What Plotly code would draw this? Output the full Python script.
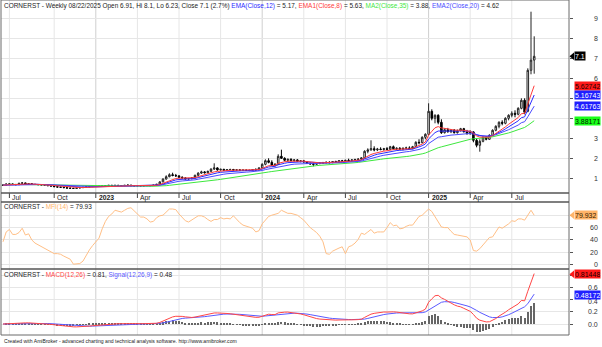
import numpy as np
import pandas as pd
import plotly.graph_objects as go

symbol = "CORNERST"
dates = pd.date_range("2022-06-17", periods=167, freq="W-FRI")

opens = [
    0.64, 0.66, 0.71, 0.72, 0.69, 0.68, 0.75, 0.77, 0.72, 0.73,
    0.70, 0.69, 0.68, 0.67, 0.66, 0.63, 0.61, 0.58, 0.56, 0.55,
    0.53, 0.51, 0.50, 0.49, 0.52, 0.53, 0.55, 0.57, 0.58, 0.60,
    0.61, 0.62, 0.64, 0.62, 0.65, 0.63, 0.65, 0.64, 0.63, 0.65,
    0.66, 0.63, 0.62, 0.63, 0.62, 0.63, 0.64, 0.63, 0.66, 0.70,
    0.82, 0.96, 1.08, 1.18, 1.14, 1.12, 1.05, 1.02, 0.97, 0.98,
    1.02, 1.15, 1.26, 1.32, 1.28, 1.35, 1.46, 1.52, 1.42, 1.45,
    1.40, 1.43, 1.44, 1.41, 1.42, 1.40, 1.41, 1.39, 1.40, 1.44,
    1.42, 1.52, 1.70, 1.88, 1.80, 1.65, 1.70, 2.10, 2.00, 1.90,
    1.95, 1.88, 1.92, 1.85, 1.87, 1.82, 1.75, 1.72, 1.70, 1.74,
    1.76, 1.78, 1.80, 1.78, 1.84, 1.82, 1.88, 1.85, 1.90, 1.88,
    1.92, 1.94, 1.96, 2.02, 2.35, 2.42, 2.48, 2.42, 2.46, 2.44,
    2.48, 2.45, 2.58, 2.48, 2.50, 2.46, 2.50, 2.52, 2.48, 2.58,
    2.80, 2.78, 3.05, 3.20, 4.35, 4.00, 4.15, 3.80, 3.28, 3.43,
    3.33, 3.41, 3.28, 3.38, 3.48, 3.33, 3.23, 3.32, 2.90, 2.65,
    2.85, 3.05, 2.95, 3.15, 3.40, 3.60, 3.80, 3.75, 4.00, 4.15,
    4.25, 4.20, 4.50, 4.90, 4.35, 6.40, 6.91,
]
highs = [
    0.70, 0.74, 0.76, 0.74, 0.72, 0.78, 0.80, 0.78, 0.76, 0.74,
    0.72, 0.71, 0.70, 0.69, 0.67, 0.65, 0.63, 0.60, 0.58, 0.57,
    0.55, 0.53, 0.52, 0.53, 0.55, 0.56, 0.58, 0.59, 0.61, 0.63,
    0.64, 0.66, 0.65, 0.66, 0.67, 0.66, 0.67, 0.66, 0.66, 0.68,
    0.67, 0.65, 0.64, 0.65, 0.64, 0.66, 0.66, 0.67, 0.72, 0.85,
    1.00, 1.15, 1.25, 1.28, 1.22, 1.16, 1.10, 1.05, 1.02, 1.04,
    1.18, 1.30, 1.38, 1.36, 1.38, 1.50, 1.75, 1.55, 1.48, 1.47,
    1.46, 1.48, 1.47, 1.45, 1.46, 1.44, 1.45, 1.43, 1.46, 1.50,
    1.55, 1.75, 1.95, 2.00, 1.90, 1.75, 2.20, 2.43, 2.05, 1.98,
    2.00, 1.95, 1.96, 1.90, 1.92, 1.86, 1.80, 1.78, 1.76, 1.80,
    1.82, 1.84, 1.85, 1.86, 1.88, 1.90, 1.92, 1.92, 1.98, 1.95,
    1.98, 2.00, 2.05, 2.40, 2.50, 2.90, 2.60, 2.52, 2.55, 2.52,
    2.56, 2.62, 2.64, 2.55, 2.56, 2.54, 2.58, 2.60, 2.62, 2.85,
    2.95, 3.10, 3.25, 4.75, 4.45, 4.20, 4.20, 3.95, 3.50, 3.52,
    3.46, 3.46, 3.44, 3.52, 3.52, 3.42, 3.40, 3.35, 3.00, 2.95,
    3.10, 3.10, 3.20, 3.45, 3.65, 3.85, 3.90, 4.05, 4.20, 4.35,
    4.40, 4.55, 5.00, 5.00, 6.50, 9.33, 8.10,
]
lows = [
    0.62, 0.65, 0.68, 0.68, 0.66, 0.67, 0.72, 0.70, 0.70, 0.68,
    0.67, 0.66, 0.65, 0.64, 0.62, 0.60, 0.57, 0.55, 0.53, 0.52,
    0.50, 0.48, 0.47, 0.48, 0.50, 0.52, 0.54, 0.55, 0.57, 0.58,
    0.60, 0.61, 0.61, 0.61, 0.62, 0.62, 0.63, 0.62, 0.62, 0.63,
    0.62, 0.61, 0.60, 0.61, 0.60, 0.62, 0.62, 0.62, 0.65, 0.69,
    0.80, 0.94, 1.05, 1.10, 1.08, 1.02, 0.98, 0.95, 0.93, 0.95,
    1.00, 1.12, 1.22, 1.24, 1.25, 1.32, 1.42, 1.38, 1.38, 1.38,
    1.37, 1.40, 1.39, 1.37, 1.38, 1.36, 1.37, 1.35, 1.38, 1.40,
    1.41, 1.50, 1.65, 1.75, 1.62, 1.60, 1.68, 1.98, 1.85, 1.82,
    1.85, 1.84, 1.82, 1.80, 1.80, 1.72, 1.68, 1.60, 1.66, 1.70,
    1.72, 1.74, 1.75, 1.76, 1.78, 1.80, 1.82, 1.83, 1.86, 1.84,
    1.88, 1.90, 1.92, 2.00, 2.25, 2.38, 2.35, 2.36, 2.40, 2.38,
    2.42, 2.42, 2.44, 2.40, 2.42, 2.40, 2.44, 2.46, 2.46, 2.55,
    2.70, 2.75, 2.95, 3.15, 3.90, 3.75, 3.70, 3.22, 3.24, 3.28,
    3.26, 3.24, 3.24, 3.34, 3.29, 3.19, 3.18, 2.80, 2.55, 2.33,
    2.80, 2.90, 2.92, 3.10, 3.35, 3.50, 3.65, 3.70, 3.90, 4.05,
    4.05, 4.15, 4.45, 4.20, 4.30, 6.20, 6.23,
]
closes = [
    0.66, 0.71, 0.72, 0.69, 0.68, 0.75, 0.77, 0.72, 0.73, 0.70,
    0.69, 0.68, 0.67, 0.66, 0.63, 0.61, 0.58, 0.56, 0.55, 0.53,
    0.51, 0.50, 0.49, 0.52, 0.53, 0.55, 0.57, 0.58, 0.60, 0.61,
    0.62, 0.64, 0.62, 0.65, 0.63, 0.65, 0.64, 0.63, 0.65, 0.66,
    0.63, 0.62, 0.63, 0.62, 0.63, 0.64, 0.63, 0.66, 0.70, 0.82,
    0.96, 1.08, 1.18, 1.14, 1.12, 1.05, 1.02, 0.97, 0.98, 1.02,
    1.15, 1.26, 1.32, 1.28, 1.35, 1.46, 1.52, 1.42, 1.45, 1.40,
    1.43, 1.44, 1.41, 1.42, 1.40, 1.41, 1.39, 1.40, 1.44, 1.42,
    1.52, 1.70, 1.88, 1.80, 1.65, 1.70, 2.10, 2.00, 1.90, 1.95,
    1.88, 1.92, 1.85, 1.87, 1.82, 1.75, 1.72, 1.70, 1.74, 1.76,
    1.78, 1.80, 1.78, 1.84, 1.82, 1.88, 1.85, 1.90, 1.88, 1.92,
    1.94, 1.96, 2.02, 2.35, 2.42, 2.48, 2.42, 2.46, 2.44, 2.48,
    2.45, 2.58, 2.48, 2.50, 2.46, 2.50, 2.52, 2.48, 2.58, 2.80,
    2.78, 3.05, 3.20, 4.35, 4.00, 4.15, 3.80, 3.28, 3.43, 3.33,
    3.41, 3.28, 3.38, 3.48, 3.33, 3.23, 3.32, 2.90, 2.65, 2.85,
    3.05, 2.95, 3.15, 3.40, 3.60, 3.80, 3.75, 4.00, 4.15, 4.25,
    4.20, 4.50, 4.90, 4.30, 6.40, 6.91, 7.10,
]
mfi14 = [
    37, 53, 57, 49, 49, 52, 59, 48, 50, 40,
    35, 32, 29, 27, 24, 21, 18, 18, 17, 14,
    12, 9, 1, 2, 2, 6, 16, 24, 31, 37,
    43, 58, 70, 78, 82, 88, 86, 85, 88, 91,
    92, 87, 81, 77, 77, 74, 69, 70, 76, 79,
    80, 85, 90, 90, 89, 82, 76, 71, 69, 72,
    76, 79, 79, 77, 73, 70, 73, 73, 76, 74,
    75, 74, 79, 73, 68, 64, 62, 60, 59, 53,
    55, 66, 73, 78, 80, 81, 83, 88, 85, 83,
    83, 82, 80, 76, 72, 66, 60, 56, 52, 46,
    37, 18, 17, 22, 25, 27, 29, 18, 29, 31,
    35, 41, 51, 49, 53, 57, 51, 53, 53, 53,
    60, 68, 63, 64, 58, 59, 62, 64, 64, 72,
    78, 80, 85, 90, 86, 77, 68, 61, 60, 60,
    54, 49, 48, 47, 46, 45, 40, 23, 22, 26,
    32, 38, 44, 45, 52, 61, 59, 62, 66, 71,
    70, 74, 74, 72, 79, 88, 79.932,
]

# ---- indicators from the weekly closes ----
c = pd.Series(closes, dtype=float)
ema12 = c.ewm(span=12, adjust=False).mean()
ema8 = c.ewm(span=8, adjust=False).mean()
ma35 = c.rolling(35, min_periods=1).mean()
ema20 = c.ewm(span=20, adjust=False).mean()
macd = c.ewm(span=12, adjust=False).mean() - c.ewm(span=26, adjust=False).mean()
signal = macd.ewm(span=9, adjust=False).mean()
hist = macd - signal

xi = np.arange(len(dates))

# ---- page geometry (pixels) ----
W, H = 602, 347
ML, MR, MT, MB = 1, 33, 0, 12
PW, PH = W - ML - MR, H - MT - MB


def fx(px):
    return (px - ML) / PW


def fy(py):
    return (PH - (py - MT)) / PH


PRICE_DOM = [fy(193), fy(0)]
MFI_DOM = [fy(269), fy(202)]
MACD_DOM = [fy(335), fy(269)]
PRICE_RANGE = [0.265, 9.915]
MFI_RANGE = [-6.8, 101.3]
MACD_RANGE = [-0.18, 0.9016]
X_RANGE = [-0.625, 176.875]

FONT = "Liberation Sans, Arial, sans-serif"
C_EMA12 = "#2b2bff"
C_EMA8 = "#ff3b3b"
C_MA35 = "#3ee83e"
C_EMA20 = "#4a4aff"
C_MFI = "#ffbf86"
C_MACD = "#ff4646"
C_SIG = "#5a5aff"

fig = go.Figure()

fig.add_trace(go.Candlestick(
    x=xi, open=opens, high=highs, low=lows, close=closes,
    increasing=dict(line=dict(color="#222222", width=1), fillcolor="#ffffff"),
    decreasing=dict(line=dict(color="#000000", width=1), fillcolor="#000000"),
    whiskerwidth=0, showlegend=False, hoverinfo="skip",
    xaxis="x", yaxis="y",
))
for series, col in ((ma35, C_MA35), (ema20, C_EMA20), (ema12, C_EMA12), (ema8, C_EMA8)):
    fig.add_trace(go.Scatter(x=xi, y=series, mode="lines", line=dict(color=col, width=1),
                             showlegend=False, hoverinfo="skip", xaxis="x", yaxis="y"))

fig.add_trace(go.Scatter(x=xi, y=mfi14, mode="lines", line=dict(color=C_MFI, width=1),
                         showlegend=False, hoverinfo="skip", xaxis="x", yaxis="y2"))

fig.add_trace(go.Bar(x=xi, y=hist, width=0.32, marker=dict(color="#666666", line=dict(width=0)),
                     showlegend=False, hoverinfo="skip", xaxis="x", yaxis="y3"))
fig.add_trace(go.Scatter(x=xi, y=signal, mode="lines", line=dict(color=C_SIG, width=1),
                         showlegend=False, hoverinfo="skip", xaxis="x", yaxis="y3"))
fig.add_trace(go.Scatter(x=xi, y=macd, mode="lines", line=dict(color=C_MACD, width=1),
                         showlegend=False, hoverinfo="skip", xaxis="x", yaxis="y3"))

yax_common = dict(side="right", showgrid=True, gridcolor="#e6e6e6", gridwidth=1,
                  zeroline=False, showline=False, ticks="outside", ticklen=3,
                  tickcolor="#555555", showticklabels=False, fixedrange=True)

fig.update_layout(
    width=W, height=H,
    margin=dict(l=ML, r=MR, t=MT, b=MB, pad=0),
    paper_bgcolor="#ffffff", plot_bgcolor="#ffffff",
    showlegend=False, bargap=0,
    xaxis=dict(domain=[0, 1], range=X_RANGE, anchor="y3", showgrid=False, zeroline=False,
               showticklabels=False, ticks="", rangeslider=dict(visible=False), fixedrange=True),
    yaxis=dict(domain=PRICE_DOM, range=PRICE_RANGE, anchor="x",
               tickvals=list(range(1, 10)), **yax_common),
    yaxis2=dict(domain=MFI_DOM, range=MFI_RANGE, anchor="x",
                tickvals=[0, 20, 40, 60, 80], **yax_common),
    yaxis3=dict(domain=MACD_DOM, range=MACD_RANGE, anchor="x",
                tickvals=[0.0, 0.2, 0.4, 0.6, 0.8], **yax_common),
)

shapes = []
annotations = []

# ---- time axis: quarter ticks on the first bar of Jan/Apr/Jul/Oct ----
tick_idx = [i for i in range(1, len(dates))
            if dates[i].month != dates[i - 1].month and dates[i].month in (1, 4, 7, 10)]
for i in tick_idx:
    is_year = dates[i].month == 1
    gcol = "#cfcfcf" if is_year else "#e6e6e6"
    for y0, y1 in ((fy(193), fy(0)), (fy(335), fy(202))):
        shapes.append(dict(type="line", xref="x", yref="paper", x0=i, x1=i, y0=y0, y1=y1,
                           line=dict(color=gcol, width=1), layer="below"))
    shapes.append(dict(type="line", xref="x", yref="paper", x0=i, x1=i, y0=fy(193), y1=fy(198),
                       line=dict(color="#444444", width=1)))
    label = f"<b>{dates[i].year}</b>" if is_year else dates[i].strftime("%b")
    annotations.append(dict(x=i, xref="x", xshift=1, y=fy(197.8), yref="paper",
                            text=label, showarrow=False, xanchor="left", yanchor="middle",
                            font=dict(family=FONT, size=6.8, color="#222222")))

# ---- pane frames ----
frame = dict(color="#6a6a6a", width=1)
shapes.append(dict(type="rect", xref="paper", yref="paper", x0=fx(1), x1=fx(569),
                   y0=fy(335), y1=fy(0), line=frame))
for py in (193, 202, 269):
    shapes.append(dict(type="line", xref="paper", yref="paper", x0=fx(1), x1=fx(569),
                       y0=fy(py), y1=fy(py), line=dict(color="#555555", width=1.3)))

# ---- right-hand scale labels (those under a value tag are left out) ----
for ax, vals, fmt in (("y", [1, 2, 3, 6, 7, 8, 9], "{:d}"),
                      ("y2", [0, 20, 40, 60], "{:d}"),
                      ("y3", [0.0, 0.2, 0.4, 0.6], "{:.1f}")):
    for v in vals:
        annotations.append(dict(x=fx(600), xref="paper", y=v, yref=ax, text=fmt.format(v),
                                showarrow=False, xanchor="right", yanchor="middle",
                                yshift=-2 if (ax == "y3" and v == 0.4) else 0,
                                font=dict(family=FONT, size=7, color="#333333")))


# ---- last-value tags ----
def to_paper(v, dom, rng):
    return dom[0] + (v - rng[0]) / (rng[1] - rng[0]) * (dom[1] - dom[0])


def tag(text, v, dom, rng, bg, fg, arrow=False):
    yp = to_paper(v, dom, rng)
    annotations.append(dict(x=fx(573.5), xref="paper", y=yp, yref="paper", text=text,
                            showarrow=False, xanchor="left", yanchor="middle",
                            bgcolor=bg, borderpad=0, height=8,
                            font=dict(family=FONT, size=7, color=fg)))
    if arrow:
        h = 3.8 / PH
        shapes.append(dict(type="path", xref="paper", yref="paper",
                           path=f"M {fx(569.5)} {yp} L {fx(574)} {yp + h} L {fx(574)} {yp - h} Z",
                           fillcolor=bg, line=dict(width=0)))


tag(f"{closes[-1]:g}", closes[-1], PRICE_DOM, PRICE_RANGE, "#000000", "#ffffff", arrow=True)
tag("5.62742", 5.62742, PRICE_DOM, PRICE_RANGE, "#ff1a1a", "#1a0000")
tag("5.16743", 5.16743, PRICE_DOM, PRICE_RANGE, "#1f1fff", "#ffffff")
tag("4.61763", 4.61763, PRICE_DOM, PRICE_RANGE, "#1f1fff", "#ffffff")
tag("3.88171", 3.88171, PRICE_DOM, PRICE_RANGE, "#19ff19", "#002200")
tag("79.932", mfi14[-1], MFI_DOM, MFI_RANGE, "#ffb469", "#332200", arrow=True)
tag("0.81448", 0.81448, MACD_DOM, MACD_RANGE, "#ff1a1a", "#1a0000", arrow=True)
tag("0.48172", 0.48172, MACD_DOM, MACD_RANGE, "#1f1fff", "#ffffff")


# ---- pane titles ----
def span(t, col):
    return f"<span style='color:{col}'>{t}</span>"


title_price = (f"{symbol} - Weekly 08/22/2025 Open 6.91, Hi 8.1, Lo 6.23, Close 7.1 (2.7%) "
               + span("EMA(Close,12)", C_EMA12) + " = 5.17, "
               + span("EMA1(Close,8)", C_EMA8) + " = 5.63, "
               + span("MA2(Close,35)", C_MA35) + " = 3.88, "
               + span("EMA2(Close,20)", C_EMA20) + " = 4.62")
title_mfi = f"{symbol} - " + span("MFI(14)", "#ffb469") + " = 79.93"
title_macd = (f"{symbol} - " + span("MACD(12,26)", C_MACD) + " = 0.81, "
              + span("Signal(12,26,9)", C_SIG) + " = 0.48")
for txt, py in ((title_price, 5.5), (title_mfi, 207), (title_macd, 274.5)):
    annotations.append(dict(x=fx(2), xref="paper", y=fy(py), yref="paper", text=txt,
                            showarrow=False, xanchor="left", yanchor="middle",
                            font=dict(family=FONT, size=6.45, color="#222222")))

annotations.append(dict(
    x=fx(2), xref="paper", y=fy(341), yref="paper",
    text="Created with AmiBroker - advanced charting and technical analysis software. http://www.amibroker.com",
    showarrow=False, xanchor="left", yanchor="middle",
    font=dict(family=FONT, size=5.1, color="#222222")))

fig.update_layout(shapes=shapes, annotations=annotations)
fig.write_html("out.html")
